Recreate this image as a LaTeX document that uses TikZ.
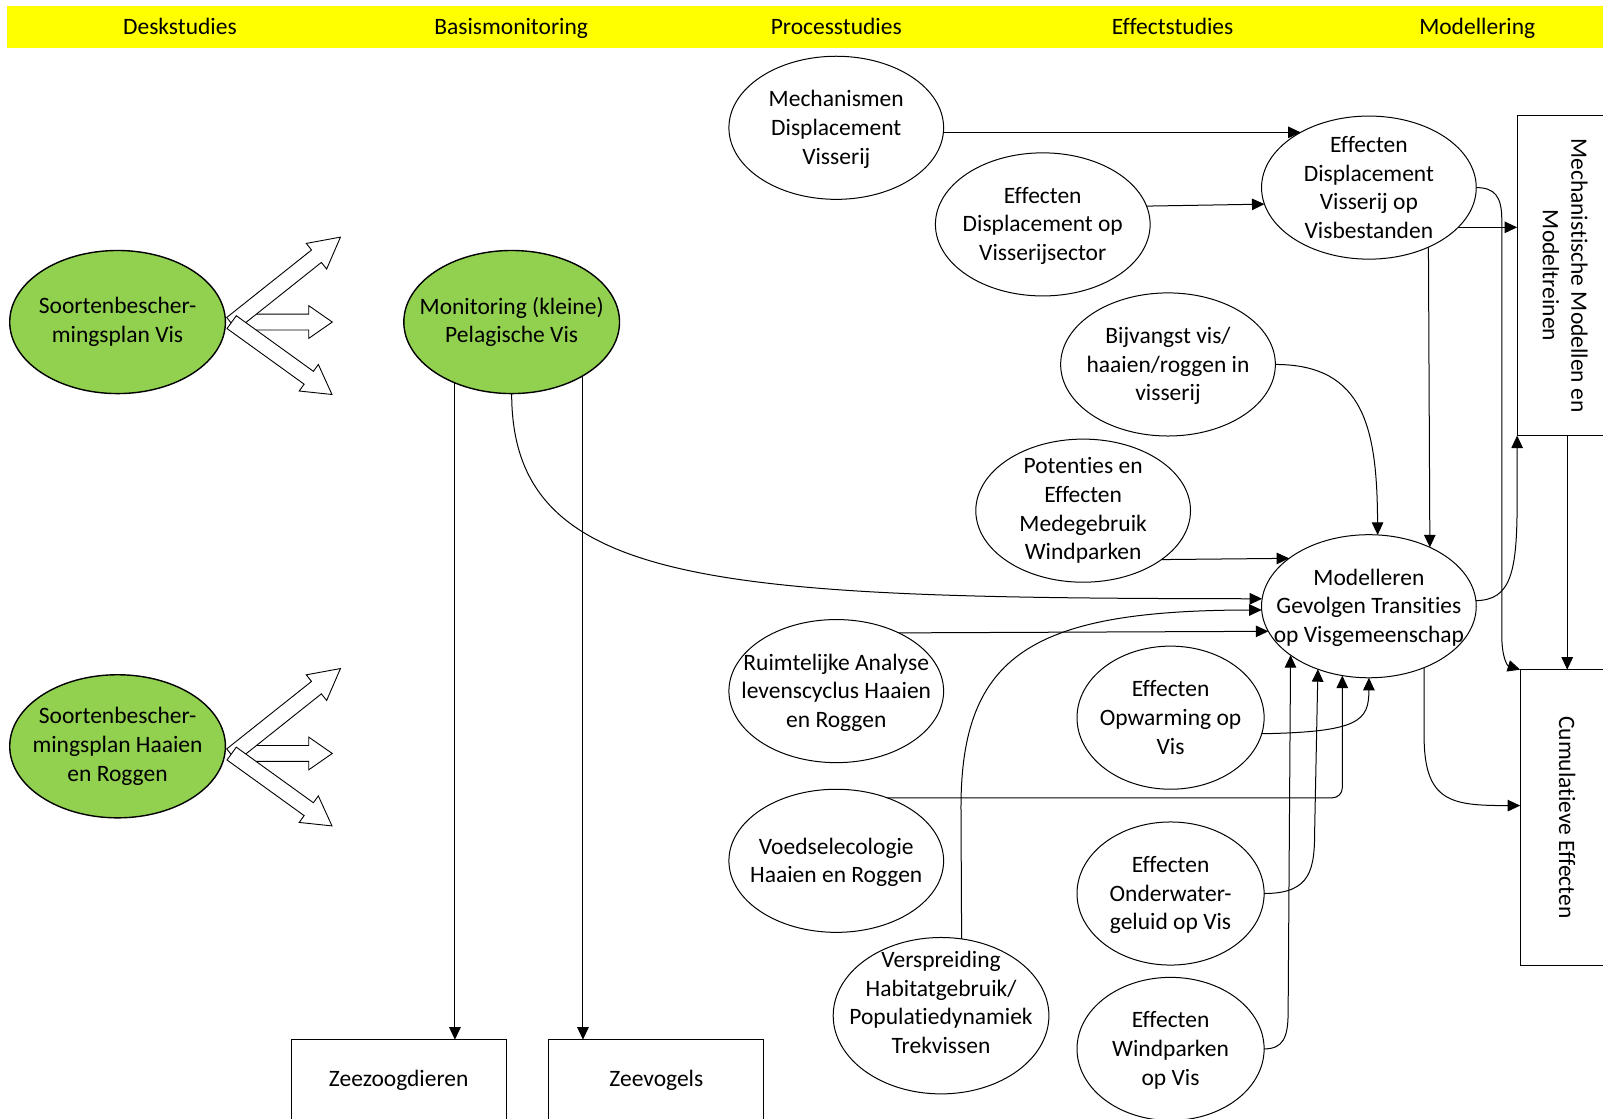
\documentclass[tikz,border=0pt]{standalone}
\usepackage{fontspec}
\setmainfont{Carlito}[Ligatures=NoCommon]
\usetikzlibrary{arrows.meta,shapes.geometric}
\definecolor{leafgreen}{HTML}{92D050}
\definecolor{bandyellow}{HTML}{FFFF00}

% hollow block arrow: #1 tail centre, #2 direction, #3 total length, #4 head length
\newcommand\blockarr[4]{%
  \begin{scope}[shift={(#1)},rotate=#2]
    \draw[blockarrow] (0,-7.75) -- ({#3-#4},-7.75) -- ({#3-#4},-16) -- (#3,0)
      -- ({#3-#4},16) -- ({#3-#4},7.75) -- (0,7.75) -- cycle;
  \end{scope}}

\begin{document}
\begin{tikzpicture}[x=1.0223pt,y=-1.0223pt,
  every node/.style={font=\fontsize{23.5}{28.7}\selectfont},
  ell/.style={ellipse,draw,line width=1pt,fill=white,inner sep=0pt,outer sep=0pt,
              minimum width=214.7pt,minimum height=143.1pt},
  ellnarrow/.style={ell,minimum width=187.1pt},
  ellgreen/.style={ell,fill=leafgreen,line width=1.4pt,minimum width=215.7pt},
  txt/.style={align=center,inner sep=0pt,outer sep=0pt},
  head/.style={anchor=base,inner sep=0pt},
  box/.style={draw,line width=1pt,fill=white,inner sep=0pt,outer sep=0pt},
  conn/.style={line width=1pt,-{Triangle[length=12.5pt,width=11.5pt]}},
  blockarrow/.style={draw,fill=white,line width=0.9pt,line join=miter}]

\useasboundingbox (0,0) rectangle (1568,1094);
\clip (0,0) rectangle (1568,1094);
\fill[white] (0,0) rectangle (1568,1094);

% header band
\fill[bandyellow] (7,6) rectangle (1568,47);
\node[head] (hdesk)  at (176,33.5)  {Deskstudies};
\node[head] (hbasis) at (500,33.5)  {Basismonitoring};
\node[head] (hproc)  at (818,33.5)  {Processtudies};
\node[head] (heff)   at (1147,33.5) {Effectstudies};
\node[head] (hmod)   at (1445,33.5) {Modellering};

% green starting points
\node[ellgreen,label={[txt]center:{Soortenbescher-\\mingsplan Vis}}] (A) at (115,315) {};
\node[ellgreen,label={[txt]center:{Soortenbescher-\\mingsplan Haaien\\en Roggen}}] (B) at (115,730) {};
\node[ellgreen,label={[txt]center:{Monitoring (kleine)\\Pelagische Vis}}] (C) at (500.5,315) {};

% studies
\node[ell,label={[txt,yshift=-1.5pt]center:{Mechanismen\\Displacement\\Visserij}}] (D) at (818,125) {};
\node[ell,label={[txt,yshift=-1.5pt]center:{Effecten\\Displacement op\\Visserijsector}}] (E) at (1020,219.5) {};
\node[ell,label={[txt]center:{Effecten\\Displacement\\Visserij op\\Visbestanden}}] (F) at (1339,183.5) {};
\node[ell,label={[txt,yshift=-1.5pt]center:{Bijvangst vis/\\haaien/roggen in\\visserij}}] (G) at (1142.5,356.5) {};
\node[ell,label={[txt]center:{Potenties en\\Effecten\\Medegebruik\\Windparken}}] (H) at (1059.5,499.5) {};
\node[ell,label={[txt,yshift=-1.5pt]center:{Modelleren\\Gevolgen Transities\\op Visgemeenschap}}] (I) at (1339,593) {};
\node[ell,label={[txt,yshift=-1.5pt]center:{Ruimtelijke Analyse\\levenscyclus Haaien\\en Roggen}}] (J) at (818,676) {};
\node[ellnarrow,label={[txt]center:{Effecten\\Opwarming op\\Vis}}] (K) at (1145,702) {};
\node[ell,label={[txt,yshift=-1.5pt]center:{Voedselecologie\\Haaien en Roggen}}] (L) at (818,842) {};
\node[ellnarrow,label={[txt,yshift=-1.5pt]center:{Effecten\\Onderwater-\\geluid op Vis}}] (M) at (1145,874) {};
\node[ell,minimum width=215.7pt,minimum height=156.4pt,
      label={[txt,yshift=13.3pt]center:{Verspreiding\\Habitatgebruik/\\Populatiedynamiek\\Trekvissen}}] (N) at (920.5,993.5) {};
\node[ellnarrow,label={[txt,yshift=-1.5pt]center:{Effecten\\Windparken\\op Vis}}] (O) at (1145,1026) {};

% boxes
\node[box,minimum width=96.1pt,minimum height=320pt] (R1) at (1531,269.5) {};
\node[txt,rotate=-90] (R1text) at (R1.center) {Mechanistische Modellen en\\Modeltreinen};
\node[box,minimum width=94.1pt,minimum height=295.4pt] (R2) at (1533,799.5) {};
\node[txt,rotate=-90] (R2text) at (R2.center) {Cumulatieve Effecten};
\node[box,minimum width=214.7pt,minimum height=81.8pt,label={[txt]center:Zeezoogdieren}] (R3) at (390,1057) {};
\node[box,minimum width=214.7pt,minimum height=81.8pt,label={[txt]center:Zeevogels}] (R4) at (642,1057) {};

% hollow arrows out of the species plans
\blockarr{226.5,315}{0}{98.5}{23}
\blockarr{226.6,316.6}{38.5}{136}{30}
\blockarr{226.6,315.1}{-35.8}{121}{28}
\blockarr{226.5,737}{0}{98.5}{23}
\blockarr{226.6,738.6}{38.5}{136}{30}
\blockarr{226.6,737.1}{-35.8}{121}{28}

% connectors
\draw[conn] (F.141.7 -| D.east) -- (F.141.7);
\draw[conn] (E.10.3) -- (F.189.8);
\draw[conn] (F.336.3) -- (F.336.3 -| R1.west);
\draw[conn] (F.east) .. controls (1462,183.5) and (1469,192) .. (1469,215) -- (1469,622)
  .. controls (1469,642) and (1474,651) .. (R2.north west);
\draw[conn] (F.315.5) -- (I.44.5);
\draw[conn] (G.east) .. controls (1335,356.5) and (1347,420) .. (I.83.5);
\draw[conn] (H.328.4) -- (I.149.8);
\draw[conn] (C.south) .. controls (500.5,575) and (700,585) .. (I.176.7);
\draw[conn] (J.43.1) -- (I.194.9);
\draw[conn,rounded corners=10pt] (L.51.9) -- (L.51.9 -| I.249.8) -- (I.249.8);
\draw[conn] (K.350.5) .. controls (1330,716) and (1339,705) .. (I.south);
\draw[conn] (M.east) .. controls (1283,874) and (1286,850) .. (1286,810) -- (I.231.6);
\draw[conn] (O.east) .. controls (1255,1026) and (1260,1015) .. (1260,990) -- (I.212.4);
\draw[conn] (N.75.5) -- (940,790) .. controls (940,640) and (1010,597) .. (I.182.2);
\draw[conn] (I.3.3) .. controls (1478,587) and (1484,560) .. (1484,490) -- (R1.south west);
\draw[conn] (R2.north |- R1.south) -- (R2.north);
\draw[conn] (I.312) -- (1393,720) .. controls (1393,785) and (1420,788) .. (R2.west |- 0,788);
\draw[conn] (C.227) -- (C.227 |- R3.north);
\draw[conn] (C.323.5) -- (C.323.5 |- R4.north);
\end{tikzpicture}
\end{document}
